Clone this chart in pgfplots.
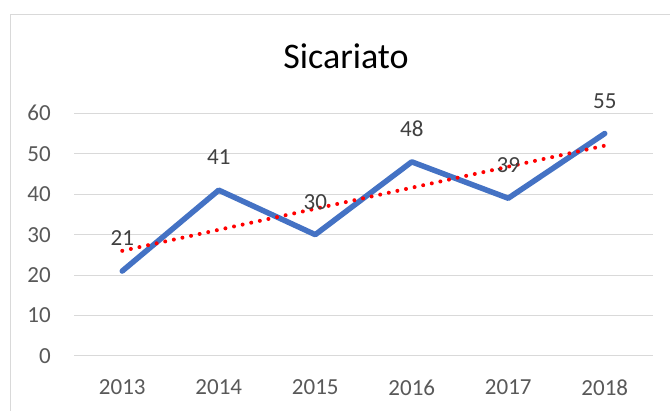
\documentclass[border=0pt]{standalone}
\usepackage{pgfplots}
\pgfplotsset{compat=1.18}
\usepackage{fontspec}
\setmainfont{Carlito}
\definecolor{exblue}{HTML}{4472C4}
\definecolor{gridgray}{HTML}{D9D9D9}
\definecolor{ticktext}{HTML}{595959}
\definecolor{labeltext}{HTML}{404040}
\begin{document}
\begin{tikzpicture}[x=1pt,y=1pt]
\useasboundingbox (0,0) rectangle (670,411);
\fill[white] (0,0) rectangle (670,411);
\draw[gridgray, line width=1.5pt] (10.7,0) -- (10.7,396.3) -- (670,396.3);
\node[anchor=base, font=\fontsize{36}{40}\selectfont, text=black] at (346,342.7) {Sicariato};
\begin{axis}[
  at={(74pt,55pt)}, anchor=south west,
  scale only axis, width=579pt, height=242.7pt,
  xmin=-0.5, xmax=5.5, ymin=0, ymax=60,
  axis line style={draw=none},
  major tick length=0pt,
  clip=false,
  xtick={0,1,2,3,4,5},
  xticklabels={2013,2014,2015,2016,2017,2018},
  ytick={0,10,20,30,40,50,60},
  /pgf/number format/assume math mode=true,
  tick label style={font=\fontsize{23}{27}\selectfont, text=ticktext, inner sep=0pt},
  xticklabel style={anchor=north, yshift=-23.5pt},
  yticklabel style={anchor=east, xshift=-23pt},
  every node near coord/.append style={anchor=south, inner sep=0pt, yshift=22.5pt, font=\fontsize{23}{27}\selectfont, text=labeltext},
]
% gridlines
\addplot[gridgray, line width=1pt, forget plot] coordinates {(-0.5,0) (5.5,0)};
\addplot[gridgray, line width=1pt, forget plot] coordinates {(-0.5,10) (5.5,10)};
\addplot[gridgray, line width=1pt, forget plot] coordinates {(-0.5,20) (5.5,20)};
\addplot[gridgray, line width=1pt, forget plot] coordinates {(-0.5,30) (5.5,30)};
\addplot[gridgray, line width=1pt, forget plot] coordinates {(-0.5,40) (5.5,40)};
\addplot[gridgray, line width=1pt, forget plot] coordinates {(-0.5,50) (5.5,50)};
\addplot[gridgray, line width=1pt, forget plot] coordinates {(-0.5,60) (5.5,60)};
% data
\addplot[exblue, line width=5.5pt, line cap=round, line join=round,
  nodes near coords={\pgfmathprintnumber[assume math mode=true]{\pgfplotspointmeta}}]
  coordinates {(0,21) (1,41) (2,30) (3,48) (4,39) (5,55)};
% linear trend line
\addplot[red, line width=4pt, line cap=round, dash pattern=on 0pt off 8.8pt]
  coordinates {(0,26) (5,52)};
\end{axis}
\end{tikzpicture}
\end{document}
